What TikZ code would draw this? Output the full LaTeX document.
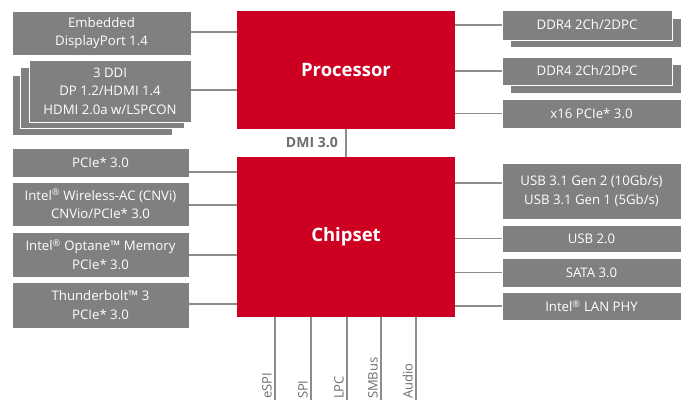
\documentclass[tikz,border=0pt]{standalone}
\usepackage{fontspec}
\setmainfont{Open Sans}
\usetikzlibrary{calc}
\definecolor{ired}{RGB}{206,0,34}
\definecolor{bgray}{RGB}{128,128,128}
\definecolor{lgray}{RGB}{140,140,140}
\definecolor{tgray}{RGB}{110,110,110}
\newcommand\reg{\textsuperscript{®}}
\tikzset{
  box/.style={fill=bgray, draw=white, line width=0.8pt, text=white, inner sep=0pt, align=center,
    font=\fontsize{13.2}{18.5}\selectfont},
  chipbox/.style={fill=ired, draw=none, text=white, inner sep=0pt, font=\fontsize{18.5}{21}\bfseries},
  wire/.style={draw=lgray, line width=1.4pt},
  buslabel/.style={rotate=90, anchor=south west, inner sep=0pt, text=tgray, font=\fontsize{13}{15}\selectfont},
}
\begin{document}
\begin{tikzpicture}[x=1pt,y=-1pt]
\useasboundingbox[fill=white] (0,0) rectangle (683,403);
% red blocks
\node[chipbox, minimum width=218pt, minimum height=118pt] (proc) at (346,70) {Processor};
\node[chipbox, minimum width=218pt, minimum height=160pt] (chip) at (346,237) {Chipset};
% left upper
\node[box, minimum width=179pt, minimum height=44pt] (edp) at (101.5,33) {Embedded\\DisplayPort 1.4};
\node[box, minimum width=160pt, minimum height=60pt] (ddic) at (92,105) {};
\node[box, minimum width=164pt, minimum height=61pt] (ddib) at (102,97.5) {};
\node[box, minimum width=162pt, minimum height=62pt] (ddi) at (110,91) {3 DDI\\DP 1.2/HDMI 1.4\\HDMI 2.0a w/LSPCON};
% right upper
\node[box, minimum width=171pt, minimum height=29pt] (ddraB) at (595.5,32.5) {};
\node[box, minimum width=170pt, minimum height=30pt] (ddra) at (587,25) {DDR4 2Ch/2DPC};
\node[box, minimum width=171pt, minimum height=29pt] (ddrbB) at (595.5,78.5) {};
\node[box, minimum width=170pt, minimum height=28pt] (ddrb) at (587,71) {DDR4 2Ch/2DPC};
\node[box, minimum width=179pt, minimum height=29pt] (pcx) at (591.5,113.5) {x16 PCIe* 3.0};
% left lower
\node[box, minimum width=177pt, minimum height=29pt] (pcie) at (100.5,162.5) {PCIe* 3.0};
\node[box, minimum width=177pt, minimum height=44pt] (wifi) at (100.5,204) {Intel\reg{} Wireless-AC (CNVi)\\CNVio/PCIe* 3.0};
\node[box, minimum width=177pt, minimum height=45pt] (opt) at (100.5,254.5) {Intel\reg{} Optane™ Memory\\PCIe* 3.0};
\node[box, minimum width=177pt, minimum height=46pt] (tb) at (100.5,305) {Thunderbolt™ 3\\PCIe* 3.0};
% right lower
\node[box, minimum width=179pt, minimum height=56pt] (usb3) at (591.5,191) {USB 3.1 Gen 2 (10Gb/s)\\USB 3.1 Gen 1 (5Gb/s)};
\node[box, minimum width=179pt, minimum height=27pt] (usb2) at (591.5,238.5) {USB 2.0};
\node[box, minimum width=179pt, minimum height=29pt] (sata) at (591.5,272.5) {SATA 3.0};
\node[box, minimum width=179pt, minimum height=28pt] (lan) at (591.5,306) {Intel\reg{} LAN PHY};
% connectors left
\draw[wire] ([yshift=1pt]edp.east) coordinate (e1) -- (e1 -| proc.west);
\draw[wire] ([yshift=1pt]ddi.east) coordinate (e2) -- (e2 -| proc.west);
\draw[wire] ([yshift=-9.5pt]pcie.east) coordinate (e3) -- (e3 -| chip.west);
\draw[wire] ([yshift=-1pt]wifi.east) coordinate (e4) -- (e4 -| chip.west);
\draw[wire] ([yshift=-0.5pt]opt.east) coordinate (e5) -- (e5 -| chip.west);
\draw[wire] ([yshift=1pt]tb.east) coordinate (e6) -- (e6 -| chip.west);
% connectors right
\draw[wire] (ddra.west) -- (ddra.west -| proc.east);
\draw[wire] (ddrb.west) -- (ddrb.west -| proc.east);
\draw[wire] (pcx.west) -- (pcx.west -| proc.east);
\draw[wire] ([yshift=8pt]usb3.west) coordinate (w1) -- (w1 -| chip.east);
\draw[wire] (usb2.west) -- (usb2.west -| chip.east);
\draw[wire] (sata.west) -- (sata.west -| chip.east);
\draw[wire] (lan.west) -- (lan.west -| chip.east);
% DMI
\draw[wire] (proc.south) -- (chip.north);
\node[anchor=east, text=tgray, inner sep=0pt, font=\fontsize{14}{16}\bfseries] (dmi)
  at ($(proc.south)!0.5!(chip.north)+(-8,0)$) {DMI 3.0};
% bottom buses
\foreach \dx/\nm/\lab in {-71/b1/eSPI, -35/b2/SPI, 1/b3/LPC, 35/b4/SMBus, 70/b5/Audio}{
  \coordinate (\nm) at ($(chip.south)+(\dx,83)$);
  \draw[wire] (\nm |- chip.south) -- (\nm);
  \node[buslabel] (\nm l) at ($(\nm)+(-3,-1)$) {\lab};
}
\end{tikzpicture}
\end{document}
